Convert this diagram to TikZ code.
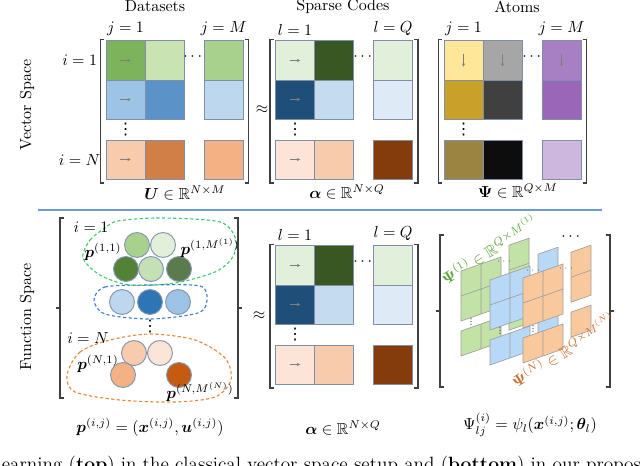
\documentclass[tikz,border=0pt]{standalone}
\usepackage{amsmath,amssymb,bm}
\usepackage[no-math]{fontspec}
\newfontfamily\symfont{DejaVu Sans}
\usetikzlibrary{positioning,arrows.meta}

\definecolor{cellline}{HTML}{7F8FA9}
\definecolor{bubline}{HTML}{8497B0}
\definecolor{brkgray}{HTML}{404040}
\definecolor{arrgray}{HTML}{7F7F7F}
\definecolor{panline}{HTML}{9E9E9E}
\definecolor{sepblue}{HTML}{6C9BDB}
\definecolor{greendash}{HTML}{3DCB6E}
\definecolor{bluedash}{HTML}{3C7DD0}
\definecolor{orangedash}{HTML}{E8883A}
\definecolor{psigreen}{HTML}{5DA639}
\definecolor{psiorange}{HTML}{CC7032}
\definecolor{grnpan}{HTML}{C3E2A6}
\definecolor{blupan}{HTML}{B7D8F7}
\definecolor{orgpan}{HTML}{F9C89C}
% datasets
\definecolor{uA}{HTML}{7DB35B}
\definecolor{uB}{HTML}{C9E3B3}
\definecolor{uC}{HTML}{A9D18E}
\definecolor{uD}{HTML}{9DC3E6}
\definecolor{uE}{HTML}{5B92C8}
\definecolor{uF}{HTML}{BDD7EE}
\definecolor{uG}{HTML}{F8CBAD}
\definecolor{uH}{HTML}{D17E47}
\definecolor{uI}{HTML}{F4B183}
% sparse codes
\definecolor{aA}{HTML}{E2EFDA}
\definecolor{aB}{HTML}{385723}
\definecolor{aD}{HTML}{1F4E79}
\definecolor{aE}{HTML}{C5DCF0}
\definecolor{aF}{HTML}{DEEBF7}
\definecolor{aG}{HTML}{FCE4D6}
\definecolor{aH}{HTML}{F8CBAD}
\definecolor{aI}{HTML}{843C0C}
% atoms
\definecolor{sA}{HTML}{FFE699}
\definecolor{sB}{HTML}{A6A6A6}
\definecolor{sC}{HTML}{A680C2}
\definecolor{sD}{HTML}{C9A128}
\definecolor{sE}{HTML}{404040}
\definecolor{sF}{HTML}{9A67B8}
\definecolor{sG}{HTML}{9B8341}
\definecolor{sH}{HTML}{0D0D0D}
\definecolor{sI}{HTML}{CDB7DF}
% points
\definecolor{gA}{HTML}{A9D18E}
\definecolor{gB}{HTML}{E2F0D9}
\definecolor{gC}{HTML}{538135}
\definecolor{gD}{HTML}{C5E0B4}
\definecolor{gE}{HTML}{5B7B4C}
\definecolor{bA}{HTML}{BDD7EE}
\definecolor{bB}{HTML}{2E75B6}
\definecolor{bC}{HTML}{9DC3E6}
\definecolor{oA}{HTML}{F8CBAD}
\definecolor{oB}{HTML}{FBE5D6}
\definecolor{oC}{HTML}{F4B183}
\definecolor{oD}{HTML}{C55A11}

\begin{document}
\begin{tikzpicture}[x=0.625pt,y=-0.625pt,
  cell/.style={draw=cellline, line width=0.6pt, minimum size=24.4pt, inner sep=0pt, outer sep=0pt},
  bub/.style={circle, draw=bubline, line width=0.6pt, minimum size=15.6pt, inner sep=0pt},
  brk/.style={draw=brkgray, line width=0.8pt},
  flow/.style={-{Stealth[length=2pt,width=2pt]}, draw=arrgray, line width=0.5pt},
  pan/.style={draw=panline, line width=0.4pt},
  blob/.style={line width=0.7pt, dash pattern=on 2pt off 1.5pt},
  vdot/.style={inner sep=0pt, font=\symfont},
  tinydots/.style={font=\tiny, inner sep=0pt},
  tinyvdot/.style={inner sep=0pt, font=\symfont\fontsize{5}{6}\selectfont}]
\useasboundingbox (0,0) rectangle (640,466);

% titles
\node (tdata) at (155,6.5) {Datasets};
\node (tcode) at (343,6.5) {Sparse Codes};
\node (tatom) at (517,6.5) {Atoms};
\node[rotate=90] (tvec) at (27,105) {Vector Space};
\node[rotate=90] (tfun) at (27,317) {Function Space};
\draw[sepblue, line width=0.8pt] (38,210) -- (602,210);

% datasets
\node[cell, fill=uA, label={above:$j=1$}, label={[label distance=2pt]left:$i=1$}] (u11) at (125.5,60.5) {};
\node[cell, fill=uB, right=0pt of u11] (u12) {};
\node[cell, fill=uC, right=12.5pt of u12, label={above:$j=M$}] (u1M) {};
\node[cell, fill=uD, below=0pt of u11] (u21) {};
\node[cell, fill=uE, right=0pt of u21] (u22) {};
\node[cell, fill=uF, below=0pt of u1M] (u2M) {};
\node[cell, fill=uG, below=13.1pt of u21, label={left:$i=N$}] (uN1) {};
\node[cell, fill=uH, right=0pt of uN1] (uN2) {};
\node[cell, fill=uI, below=13.1pt of u2M] (uNM) {};
\node (uhdots) at (194,57) {$\cdots$};
\node[vdot] (uvdots) at (125.5,130) {⋮};
\node (ulab) at (185,193) {$\bm{U}\in\mathbb{R}^{N\times M}$};

\node (approx1) at (262,110) {$\approx$};

% sparse codes
\node[cell, fill=aA, label={above:$l=1$}] (a11) at (295,60.5) {};
\node[cell, fill=aB, right=0pt of a11] (a12) {};
\node[cell, fill=aA, right=12.5pt of a12, label={above:$l=Q$}] (a1Q) {};
\node[cell, fill=aD, below=0pt of a11] (a21) {};
\node[cell, fill=aE, right=0pt of a21] (a22) {};
\node[cell, fill=aF, below=0pt of a1Q] (a2Q) {};
\node[cell, fill=aG, below=13.1pt of a21] (aN1) {};
\node[cell, fill=aH, right=0pt of aN1] (aN2) {};
\node[cell, fill=aI, below=13.1pt of a2Q] (aNQ) {};
\node (ahdots) at (364,57) {$\cdots$};
\node[vdot] (avdots) at (295,130) {⋮};
\node (alab) at (347,192) {$\bm{\alpha}\in\mathbb{R}^{N\times Q}$};

% atoms
\node[cell, fill=sA, label={above:$j=1$}] (s11) at (463.5,60.5) {};
\node[cell, fill=sB, right=0pt of s11] (s12) {};
\node[cell, fill=sC, right=12.5pt of s12, label={above:$j=M$}] (s1M) {};
\node[cell, fill=sD, below=0pt of s11] (s21) {};
\node[cell, fill=sE, right=0pt of s21] (s22) {};
\node[cell, fill=sF, below=0pt of s1M] (s2M) {};
\node[cell, fill=sG, below=13.1pt of s21] (sN1) {};
\node[cell, fill=sH, right=0pt of sN1] (sN2) {};
\node[cell, fill=sI, below=13.1pt of s2M] (sNM) {};
\node (shdots) at (533,57) {$\cdots$};
\node[vdot] (svdots) at (463.5,130) {⋮};
\node (slab) at (518,191) {$\bm{\Psi}\in\mathbb{R}^{Q\times M}$};

% sparse codes, function space
\node (approx2) at (259,316) {$\approx$};
\node[cell, fill=aA, label={above:$l=1$}] (c11) at (295,265.5) {};
\node[cell, fill=aB, right=0pt of c11] (c12) {};
\node[cell, fill=aA, right=12.5pt of c12, label={above:$l=Q$}] (c1Q) {};
\node[cell, fill=aD, below=0pt of c11] (c21) {};
\node[cell, fill=aE, right=0pt of c21] (c22) {};
\node[cell, fill=aF, below=0pt of c1Q] (c2Q) {};
\node[cell, fill=aG, below=13.1pt of c21] (cN1) {};
\node[cell, fill=aH, right=0pt of cN1] (cN2) {};
\node[cell, fill=aI, below=13.1pt of c2Q] (cNQ) {};
\node (chdots) at (364,262) {$\cdots$};
\node[vdot] (cvdots) at (295,335) {⋮};
\node (clab) at (343,428) {$\bm{\alpha}\in\mathbb{R}^{N\times Q}$};

% arrows and brackets
\foreach \c in {u11,u21,uN1,a11,a21,aN1,c11,c21,cN1}
  \draw[flow] ([xshift=-3.2pt]\c.center) -- ([xshift=3.2pt]\c.center);
\foreach \c in {s11,s12,s1M}
  \draw[flow] ([yshift=3.8pt]\c.center) -- ([yshift=-3.8pt]\c.center);
\foreach \tl/\bl/\tr/\br in {u11/uN1/u1M/uNM, a11/aN1/a1Q/aNQ, s11/sN1/s1M/sNM, c11/cN1/c1Q/cNQ} {
  \draw[brk] ([shift={(-1.5,-1.5)}]\tl.north west) -- ++(-4,0) |- ([shift={(-1.5,4)}]\bl.south west);
  \draw[brk] ([shift={(1.5,-1.5)}]\tr.north east) -- ++(4,0) |- ([shift={(1.5,4)}]\br.south east);
}

% function space brackets
\draw[brk] (64,218) -- (60,218) -- (60,398) -- (64,398) (60,308) -- (56,308);
\draw[brk] (234,218) -- (238,218) -- (238,398) -- (234,398) (238,308) -- (242,308);
\draw[brk] (444,235) -- (440,235) -- (440,387) -- (444,387) (440,311) -- (436,311);
\draw[brk] (606,235) -- (610,235) -- (610,387) -- (606,387) (610,311) -- (614,311);

% point clouds
\draw[blob, greendash] plot[smooth cycle] coordinates {(83,258) (90,240) (105,228) (118,221) (160,218) (220,222) (236,240) (232,258) (215,272) (175,283) (130,285) (100,275)};
\draw[blob, bluedash] plot[smooth cycle] coordinates {(94,300) (105,287) (150,285) (200,286) (207,300) (198,313) (150,319) (105,314)};
\draw[blob, orangedash] plot[smooth cycle] coordinates {(67,375) (80,352) (110,340) (150,334) (195,340) (225,358) (231,380) (215,397) (175,402) (120,400) (75,392)};

\node (i1) at (91,227) {$i=1$};
\node (iN) at (88,338) {$i=N$};

\node[bub, fill=gA] (g1) at (137,245) {};
\node[bub, fill=gB] (g2) at (163,245) {};
\node[bub, fill=gC] (g3) at (126,269) {};
\node[bub, fill=gD] (g4) at (151,269) {};
\node[bub, fill=gE] (g5) at (179,269) {};
\node[bub, fill=bA] (b1) at (122,302) {};
\node[bub, fill=bB] (b2) at (150,302) {};
\node[bub, fill=bC] (b3) at (178,302) {};
\node[vdot] (pvdots) at (150,327) {⋮};
\node[bub, fill=oA] (o1) at (134,353) {};
\node[bub, fill=oB] (o2) at (160,353) {};
\node[bub, fill=oC] (o3) at (123,375) {};
\node[bub, fill=oD] (o4) at (179,375) {};

\node (p11) at (103,252) {$\bm{p}^{(1,1)}$};
\node (p1M) at (210,248) {$\bm{p}^{(1,M^{(1)})}$};
\node (pN1) at (98,364) {$\bm{p}^{(N,1)}$};
\node (pNM) at (200,392) {$\bm{p}^{(N,M^{(N)})}$};
\node (plab) at (150,427) {$\bm{p}^{(i,j)}=(\bm{x}^{(i,j)},\bm{u}^{(i,j)})$};

% atoms, function space
\foreach \px/\py/\pc in {461/271/grnpan, 490/280/blupan, 523/278/orgpan} {
  \begin{scope}[shift={(\px,\py)}, yslant=0.35]
    \filldraw[pan, fill=\pc] (0,0) rectangle (40,50) (48,-9) rectangle (68,41)
      (0,60) rectangle (40,85) (48,51) rectangle (68,76);
    \draw[pan] (20,0) -- (20,50) (0,25) -- (40,25) (48,16) -- (68,16) (20,60) -- (20,85);
    \node[tinydots] at (44,6) {$\cdots$};
    \node[tinyvdot] at (10,55) {⋮};
  \end{scope}
}
\node (more) at (572,237) {$\cdots$};
\node[rotate=32, text=psigreen] (psi1) at (489,249) {$\bm{\Psi}^{(1)}\in\mathbb{R}^{Q\times M^{(1)}}$};
\node[rotate=32, text=psiorange] (psiN) at (563,350) {$\bm{\Psi}^{(N)}\in\mathbb{R}^{Q\times M^{(N)}}$};
\node (psilab) at (530,425) {$\Psi^{(i)}_{lj}=\psi_l(\bm{x}^{(i,j)};\bm{\theta}_l)$};

% caption line, cut by the frame
\node[anchor=base west, font=\large] (capt) at (-9,471) {learning (\textbf{top}) in the classical vector space setup and (\textbf{bottom}) in our proposed};
\end{tikzpicture}
\end{document}
